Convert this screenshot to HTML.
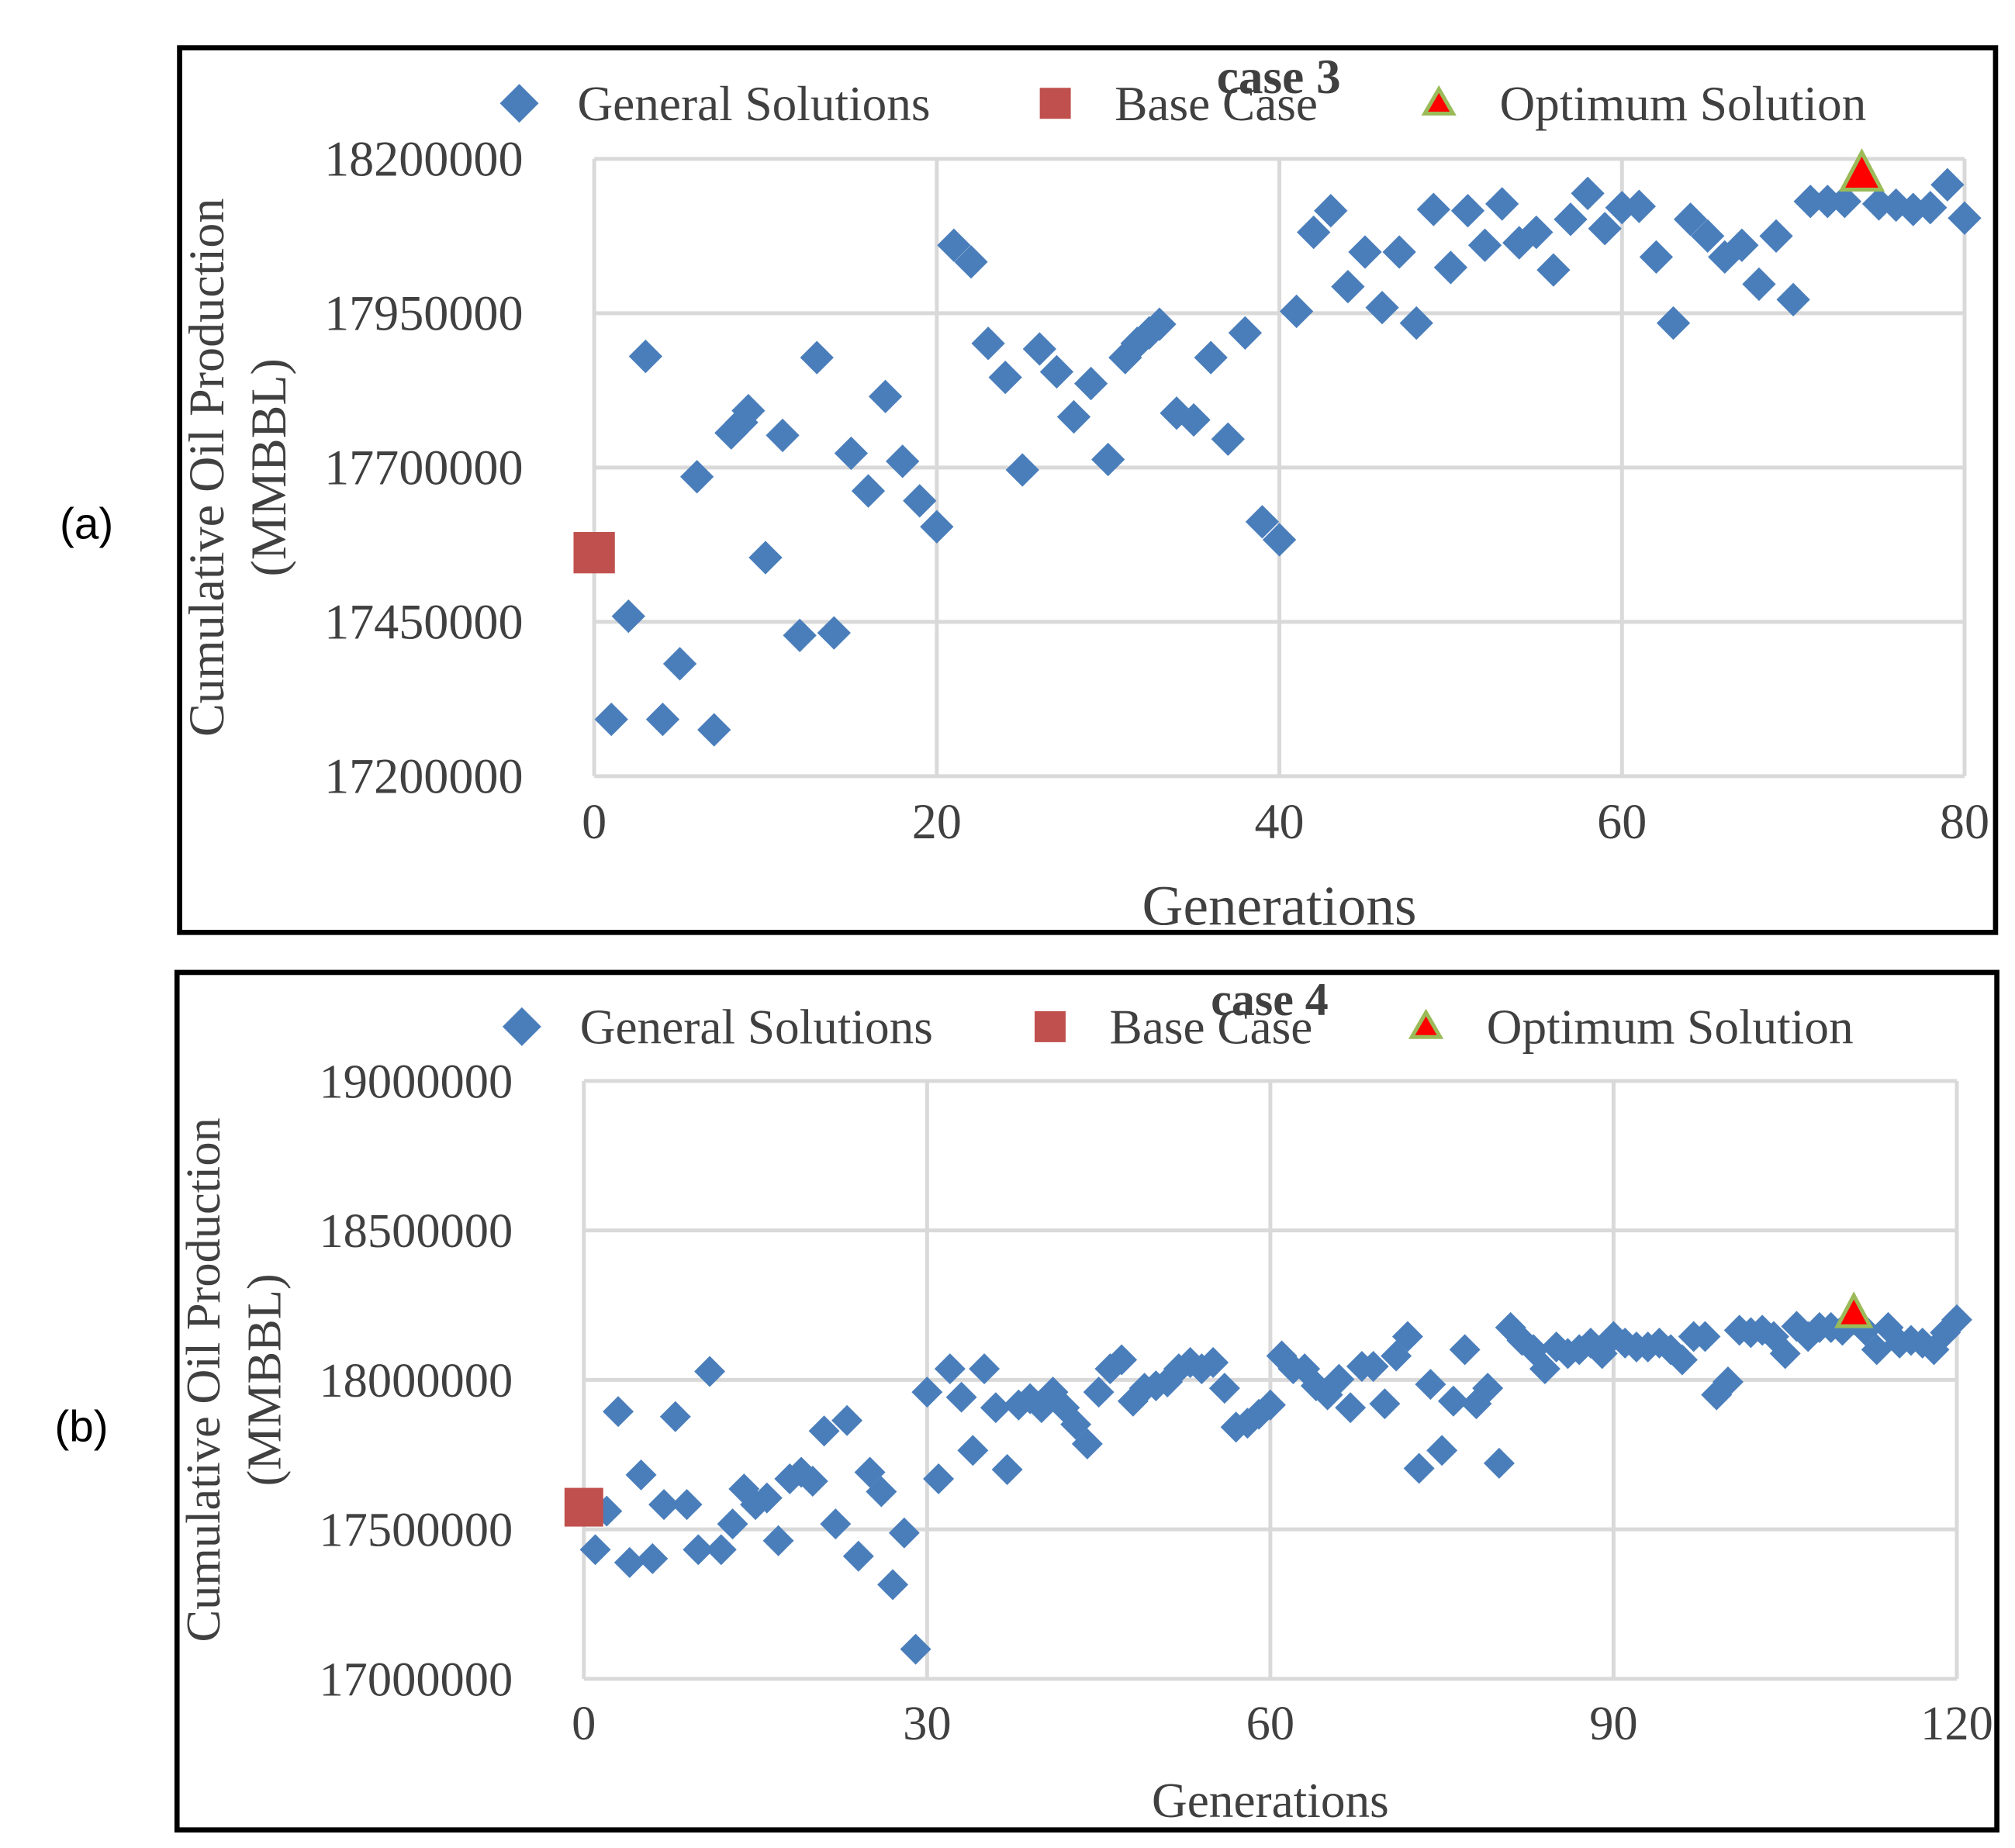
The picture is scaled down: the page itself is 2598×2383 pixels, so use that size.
<!DOCTYPE html>
<html><head><meta charset="utf-8">
<style>
html,body{margin:0;padding:0;background:#fff;}
svg{display:block;}
text{font-family:"Liberation Serif",serif;fill:#404040;}
</style></head>
<body>
<svg id="chart" width="2598" height="2383" viewBox="0 0 1560 1431" xmlns="http://www.w3.org/2000/svg">
<rect x="0" y="0" width="1560" height="1431" fill="#fff"/>
<text x="67" y="417" font-size="34" text-anchor="middle" style="fill:#000;font-family:'Liberation Sans',sans-serif">(a)</text>
<text x="63" y="1116" font-size="34" text-anchor="middle" style="fill:#000;font-family:'Liberation Sans',sans-serif">(b)</text>
<g id="ga"></g>
<g id="gb"></g>
</svg>
<script>
// Case 3 data
const aGens = [1,2,3,4,5,6,7,8,8.6,9,10,11,12,13,14,15,16,17,18,19,20,21,22,23,24,25,26,27,28,29,30,31,31.7,32.4,33,34,35,36,37,38,39,40,41,42,43,44,45,46,47,48,49,50,51,52,53,54,55,56,57,58,59,60,61,62,63,64,65,66,67,68,69,70,71,72,73,75,76,77,78,79,80];
const aVals = [17292000,17459000,17880000,17292000,17382000,17685000,17275000,17756000,17773000,17792000,17554000,17752000,17428000,17878000,17432000,17723000,17662000,17815000,17710000,17646000,17604000,18060000,18033000,17901000,17846000,17696000,17892000,17855000,17782000,17836000,17713000,17878000,17901000,17918000,17932000,17788000,17777000,17878000,17746000,17918000,17612000,17583000,17953000,18081000,18116000,17993000,18049000,17959000,18049000,17934000,18118000,18024000,18116000,18060000,18127000,18064000,18081000,18020000,18102000,18144000,18087000,18121000,18123000,18041000,17934000,18102000,18075000,18041000,18060000,17997000,18075000,17972000,18131000,18131000,18131000,18127000,18125000,18118000,18121000,18158000,18104000];
const aBase = [0, 17562000];
const aOpt = [74, 18175000];
const aYTicks = [17200000,17450000,17700000,17950000,18200000];
const aXTicks = [0,20,40,60,80];
// Case 4 data
const bVals = [17432000,17561000,17894000,17389000,17682000,17402000,17583000,17877000,17583000,17432000,18028000,17432000,17518000,17635000,17583000,17605000,17462000,17669000,17691000,17661000,17829000,17518000,17864000,17410000,17691000,17626000,17315000,17488000,17099000,17959000,17669000,18037000,17942000,17764000,18037000,17907000,17700000,17916000,17937000,17907000,17959000,17907000,17851000,17786000,17959000,18037000,18067000,17929000,17972000,17980000,17993000,18037000,18058000,18037000,18058000,17972000,17842000,17855000,17885000,17916000,18080000,18037000,18037000,17980000,17950000,18002000,17907000,18045000,18045000,17920000,18080000,18145000,17704000,17985000,17764000,17929000,18101000,17920000,17972000,17721000,18175000,18132000,18101000,18037000,18110000,18088000,18101000,18123000,18088000,18145000,18123000,18110000,18110000,18123000,18101000,18067000,18145000,18145000,17950000,17993000,18166000,18158000,18166000,18145000,18088000,18179000,18145000,18175000,18175000,18166000,18201000,18166000,18101000,18175000,18123000,18132000,18123000,18101000,18158000,18201000];
const bBase = [0, 17574000];
const bOpt = [111, 18222000];
const bYTicks = [17000000,17500000,18000000,18500000,19000000];
const bXTicks = [0,30,60,90,120];

const NS="http://www.w3.org/2000/svg";
function mk(parent,tag,attrs,txt){const e=document.createElementNS(NS,tag);for(const k in attrs)e.setAttribute(k,attrs[k]);if(txt!==undefined)e.textContent=txt;parent.appendChild(e);return e;}

function draw(g,cfg){
  const sx=v=>cfg.x0+(v-cfg.xmin)/(cfg.xmax-cfg.xmin)*(cfg.x1-cfg.x0);
  const sy=v=>cfg.y0-(v-cfg.ymin)/(cfg.ymax-cfg.ymin)*(cfg.y0-cfg.y1);
  const fr=mk(g,'rect',{x:cfg.fx,y:cfg.fy,width:cfg.fw,height:cfg.fh,fill:'none',stroke:'#000','stroke-width':4});
  
  
  cfg.yt.forEach(t=>{
    const l=mk(g,'line',{x1:cfg.x0,x2:cfg.x1,y1:sy(t),y2:sy(t),stroke:'#d9d9d9','stroke-width':3});
    
    
    const tx=mk(g,'text',{x:cfg.x0-55,y:sy(t)+13,'font-size':cfg.fs,'text-anchor':'end'},String(t));
    
    
  });
  cfg.xt.forEach(t=>{
    const l=mk(g,'line',{x1:sx(t),x2:sx(t),y1:cfg.y1,y2:cfg.y0,stroke:'#d9d9d9','stroke-width':3});
    
    
    const tx=mk(g,'text',{x:sx(t),y:cfg.y0+cfg.xlo,'font-size':cfg.fs,'text-anchor':'middle'},String(t));
    
    
  });
  const d=cfg.ds;
  const pts=mk(g,'g',{});
  
  
  cfg.gens.forEach((gv,i)=>{
    const x=sx(gv),y=sy(cfg.vals[i]);
    const p=mk(pts,'polygon',{points:`${x},${y-d} ${x+d},${y} ${x},${y+d} ${x-d},${y}`,fill:'#4a7ebb'});
    
    
  });
  const bx=sx(cfg.base[0]),by=sy(cfg.base[1]),bs=cfg.bs;
  const b=mk(g,'rect',{x:bx-bs,y:by-bs,width:bs*2,height:bs*2,fill:'#c0504d'});
  
  
  const ox=sx(cfg.opt[0]),oy=sy(cfg.opt[1]),os=cfg.os;
  const o=mk(g,'polygon',{points:`${ox},${oy-os} ${ox+os*0.9},${oy+os*0.7} ${ox-os*0.9},${oy+os*0.7}`,fill:'#ff0000',stroke:'#9bbb59','stroke-width':3});
  
  
  const ly=cfg.ly;
  const l1=mk(g,'polygon',{points:`${cfg.lx[0]},${ly-15} ${cfg.lx[0]+15},${ly} ${cfg.lx[0]},${ly+15} ${cfg.lx[0]-15},${ly}`,fill:'#4a7ebb'});
  
  
  const t1=mk(g,'text',{x:cfg.lx[0]+45,y:ly+13,'font-size':cfg.lfs},'General Solutions');
  
  
  const l2=mk(g,'rect',{x:cfg.lx[1]-12,y:ly-12,width:24,height:24,fill:'#c0504d'});
  
  
  const t2=mk(g,'text',{x:cfg.lx[1]+46,y:ly+13,'font-size':cfg.lfs},'Base Case');
  
  
  const l3=mk(g,'polygon',{points:`${cfg.lx[2]},${ly-11} ${cfg.lx[2]+11},${ly+8} ${cfg.lx[2]-11},${ly+8}`,fill:'#ff0000',stroke:'#9bbb59','stroke-width':3});
  
  
  const t3=mk(g,'text',{x:cfg.lx[2]+47,y:ly+13,'font-size':cfg.lfs},'Optimum Solution');
  
  
  const ti=mk(g,'text',{x:cfg.tx,y:cfg.ty,'font-size':cfg.tfs,'font-weight':'bold','text-anchor':'middle'},cfg.title);
  
  
  const xt=mk(g,'text',{x:(cfg.x0+cfg.x1)/2,y:cfg.xty,'font-size':cfg.xtfs,'text-anchor':'middle'},'Generations');
  
  
  const yc=(cfg.y0+cfg.y1)/2+(cfg.ycoff||0);
  const y1=mk(g,'text',{x:0,y:0,'font-size':cfg.yfs,'text-anchor':'middle',transform:`translate(${cfg.yx1},${yc}) rotate(-90)`},'Cumulative Oil Production');
  
  
  const y2=mk(g,'text',{x:0,y:0,'font-size':cfg.yfs,'text-anchor':'middle',transform:`translate(${cfg.yx2},${yc}) rotate(-90)`},'(MMBBL)');
  
  
}

draw(document.getElementById('ga'),{
  fx:139,fy:37,fw:1406,fh:685,x0:460,x1:1521,y0:601,y1:123,xmin:0,xmax:80,ymin:17200000,ymax:18200000,
  yt:aYTicks,xt:aXTicks,gens:aGens,vals:aVals,base:aBase,opt:aOpt,fs:38.5,xlo:48,ds:13,bs:16,os:17,
  ly:80,lx:[402,817,1114],lfs:38,title:'case 3',tx:990,ty:72,tfs:38,xty:716,xtfs:44,yx1:173,yx2:221,yfs:38.5
});
const bGens = bVals.map((v,i)=>i+1);
draw(document.getElementById('gb'),{
  fx:137,fy:753,fw:1409,fh:664,x0:452,x1:1515,y0:1300,y1:837,xmin:0,xmax:120,ymin:17000000,ymax:19000000,
  yt:bYTicks,xt:bXTicks,gens:bGens,vals:bVals,base:bBase,opt:bOpt,fs:37.5,xlo:47,ds:12,bs:15,os:14,
  ly:795,lx:[404,813,1104],lfs:38,title:'case 4',tx:983,ty:786,tfs:36,xty:1407,xtfs:38,yx1:170,yx2:217,yfs:37.5
});
</script>
</body></html>
